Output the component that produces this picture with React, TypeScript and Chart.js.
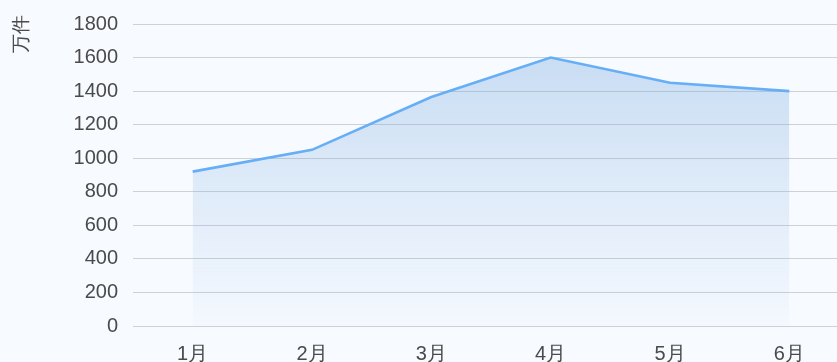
import React, { useEffect, useRef } from "react";
import { Chart, registerables } from "chart.js";

Chart.register(...registerables);

const months = ["1月", "2月", "3月", "4月", "5月", "6月"];
const volumes = [920, 1050, 1365, 1600, 1450, 1400];
const yTicks = [0, 200, 400, 600, 800, 1000, 1200, 1400, 1600, 1800];
const unitLabel = "万件";

const FONT = "'Liberation Sans', Arial, sans-serif";
const TEXT = "#4a4a4a";

// Unit caption drawn rotated in the top-left corner, above the y-axis labels.
const unitTitle = {
  id: "unitTitle",
  afterDraw(chart: any) {
    const c = chart.ctx;
    c.save();
    c.translate(22, 34);
    c.rotate(-Math.PI / 2);
    c.font = `19px ${FONT}`;
    c.fillStyle = TEXT;
    c.textAlign = "center";
    c.textBaseline = "middle";
    c.fillText(unitLabel, 0, 0);
    c.restore();
  },
};

export default function App() {
  const ref = useRef<HTMLCanvasElement>(null);

  useEffect(() => {
    if (!ref.current) return;
    const chart = new Chart(ref.current, {
      type: "line",
      data: {
        labels: months,
        datasets: [
          {
            data: volumes,
            borderColor: "#66aef6",
            borderWidth: 2.6,
            pointRadius: 0,
            tension: 0,
            fill: "origin",
            backgroundColor: (ctx: any) => {
              const area = ctx.chart.chartArea;
              if (!area) return "rgba(120,170,220,0.2)";
              const g = ctx.chart.ctx.createLinearGradient(0, area.top, 0, area.bottom);
              g.addColorStop(0, "rgba(110,165,220,0.38)");
              g.addColorStop(1, "rgba(120,170,220,0.02)");
              return g;
            },
          },
        ],
      },
      options: {
        responsive: false,
        animation: false,
        layout: { padding: { top: 24, right: 11, left: 0, bottom: 0 } },
        plugins: { legend: { display: false }, tooltip: { enabled: false } },
        scales: {
          x: {
            offset: true,
            grid: { display: false },
            border: { display: false },
            ticks: { color: TEXT, font: { family: FONT, size: 20 }, padding: 8, maxRotation: 0 },
            afterFit: (s: any) => {
              s.height = 36;
            },
          },
          y: {
            min: 0,
            max: 1800,
            afterBuildTicks: (s: any) => {
              s.ticks = yTicks.map((v) => ({ value: v }));
            },
            grid: { color: "#cdd1d6", drawTicks: false, lineWidth: 1 },
            border: { display: false },
            ticks: {
              color: TEXT,
              font: { family: FONT, size: 20 },
              padding: 15,
              autoSkip: false,
              callback: (v: any) => String(v),
            },
            afterFit: (s: any) => {
              s.width = 133;
              s.paddingTop = 0;
              s.paddingBottom = 0;
            },
          },
        },
      },
      plugins: [unitTitle],
    });
    return () => chart.destroy();
  }, []);

  return (
    <div
      style={{
        position: "absolute",
        left: 0,
        top: 0,
        width: 837,
        height: 362,
        overflow: "hidden",
        background: "#f7faff",
      }}
    >
      <canvas ref={ref} width={860} height={362} style={{ display: "block" }} />
    </div>
  );
}
